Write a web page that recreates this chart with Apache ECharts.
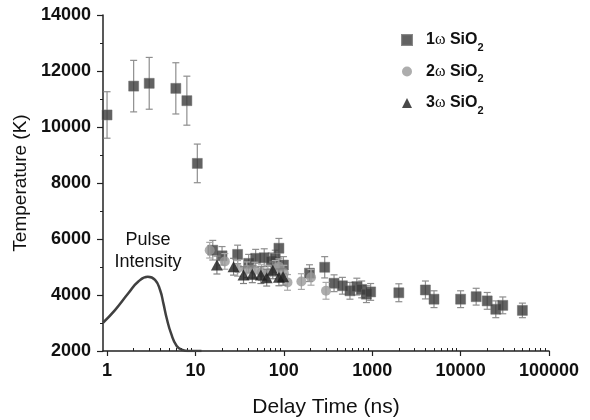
<!DOCTYPE html>
<html><head><meta charset="utf-8">
<script src="https://cdn.jsdelivr.net/npm/echarts@6/dist/echarts.min.js"></script>
<style>html,body{margin:0;padding:0;background:#fff}#c{width:590px;height:420px}</style>
</head><body><div id="c"></div>
<script>
// ---- data ----
const xTickLabels = [1, 10, 100, 1000, 10000, 100000];
const xMinorTicks = [2,3,4,5,6,7,8,9,20,30,40,50,60,70,80,90,200,300,400,500,600,700,800,900,2000,3000,4000,5000,6000,7000,8000,9000,20000,30000,40000,50000,60000,70000,80000,90000];
const yTicks = [2000, 4000, 6000, 8000, 10000, 12000, 14000];

const s1Time = [1, 2, 3, 6, 8, 10.5, 15.7, 20, 30, 40, 48, 60, 72, 80, 88, 99, 195, 290, 370, 460, 560, 670, 760, 860, 960, 2000, 4000, 5000, 10000, 15000, 20000, 25000, 30000, 50000];
const s1Temp = [10430, 11460, 11560, 11380, 10940, 8700, 5600, 5400, 5450, 5130, 5310, 5330, 5200, 5300, 5670, 5070, 4780, 4990, 4420, 4330, 4150, 4300, 4200, 4030, 4110, 4080, 4180, 3850, 3850, 3940, 3790, 3490, 3630, 3450];
const s1Err  = [830, 920, 925, 915, 875, 690, 350, 330, 330, 320, 320, 320, 300, 300, 350, 300, 300, 380, 300, 300, 300, 300, 300, 300, 300, 320, 320, 300, 300, 300, 300, 300, 300, 260];

const s2Time = [14.5, 21.5, 30, 38, 47, 56, 66, 80, 88, 100, 110, 158, 203, 300];
const s2Temp = [5600, 5200, 4950, 4900, 4890, 4800, 4780, 4950, 5010, 4780, 4450, 4480, 4630, 4150];
const s2Err  = [280, 280, 280, 280, 280, 280, 280, 280, 280, 280, 280, 280, 280, 300];

const s3Time = [17.5, 27, 35, 44, 55, 64, 75, 88, 98];
const s3Temp = [5070, 5010, 4710, 4740, 4710, 4620, 4880, 4630, 4650];
const s3Err  = [320, 300, 300, 300, 300, 300, 300, 300, 300];

const pulseTime = [0.9, 1.23, 1.74, 2.26, 2.89, 3.49, 3.98, 4.34, 4.73, 5.3, 6.14, 7.1, 8.3, 11.7];
const pulseVal  = [3010, 3460, 4060, 4480, 4650, 4540, 4180, 3700, 3170, 2630, 2180, 2040, 2000, 2000];

const seriesNames = ['1ω SiO2', '2ω SiO2', '3ω SiO2'];
const seriesOrders = ['1', '2', '3'];

// ---- chart ----
const chart = echarts.init(document.getElementById('c'), null, {renderer: 'canvas'});
const AX = '#222';
const FONT = 'Liberation Sans, Arial, sans-serif';

function errSeries(name, t, v, e, color, z) {
  return {
    type: 'custom', name: name + ' err', z: z, silent: true,
    data: t.map((x, i) => [x, v[i] - e[i], v[i] + e[i]]),
    encode: {x: 0, y: [1, 2]},
    renderItem: function (params, api) {
      const a = api.coord([api.value(0), api.value(1)]);
      const b = api.coord([api.value(0), api.value(2)]);
      const w = 3.5;
      const st = {stroke: color, lineWidth: 1.2};
      return {type: 'group', children: [
        {type: 'line', shape: {x1: a[0], y1: a[1], x2: b[0], y2: b[1]}, style: st},
        {type: 'line', shape: {x1: a[0] - w, y1: a[1], x2: a[0] + w, y2: a[1]}, style: st},
        {type: 'line', shape: {x1: b[0] - w, y1: b[1], x2: b[0] + w, y2: b[1]}, style: st}
      ]};
    }
  };
}
function pts(t, v) { return t.map((x, i) => [x, v[i]]); }

const option = {
  animation: false,
  backgroundColor: '#fff',
  grid: {left: 103, right: 41, top: 15, bottom: 69, containLabel: false, outerBoundsMode: 'none'},
  legend: {
    orient: 'vertical', left: 396, top: 27, itemGap: 10.5,
    itemWidth: 10, itemHeight: 10,
    data: seriesNames,
    formatter: function (name) {
      const i = seriesNames.indexOf(name);
      return '{n|' + seriesOrders[i] + '}{w|ω}{a| SiO}{s|2}';
    },
    textStyle: {
      rich: {
        n: {fontSize: 16, fontWeight: 'bold', fontFamily: FONT, color: '#111', lineHeight: 26, verticalAlign: 'middle', padding: [0, 0, 0, 9]},
        a: {fontSize: 16, fontWeight: 'bold', fontFamily: FONT, color: '#111', lineHeight: 26, verticalAlign: 'middle'},
        w: {fontSize: 16, fontFamily: 'Liberation Serif, serif', color: '#111', lineHeight: 26, verticalAlign: 'middle'},
        s: {fontSize: 11, fontWeight: 'bold', fontFamily: FONT, color: '#111', lineHeight: 8, verticalAlign: 'bottom'}
      }
    }
  },
  xAxis: [{
    type: 'log', logBase: 10, min: 0.9, max: 100000,
    name: 'Delay Time (ns)', nameLocation: 'middle', nameGap: 46,
    nameTextStyle: {fontSize: 21, fontFamily: FONT, color: '#111'},
    axisLine: {show: true, onZero: false, lineStyle: {color: AX, width: 1.5}},
    axisTick: {show: true, inside: false, length: 5, lineStyle: {color: AX, width: 1.2}, customValues: xTickLabels},
    axisLabel: {fontSize: 18, fontWeight: 'bold', fontFamily: FONT, color: '#111', margin: 11,
      customValues: xTickLabels, formatter: v => String(Math.round(v))},
    splitLine: {show: false}
  }, {
    type: 'log', logBase: 10, min: 0.9, max: 100000, position: 'bottom',
    axisLine: {show: false},
    axisTick: {show: true, inside: true, length: 3, lineStyle: {color: AX, width: 1}, customValues: xMinorTicks},
    axisLabel: {show: false},
    splitLine: {show: false}
  }],
  yAxis: {
    type: 'value', min: 2000, max: 14000, interval: 2000,
    name: 'Temperature (K)', nameLocation: 'middle', nameGap: 68, nameRotate: 90,
    nameTextStyle: {fontSize: 19, fontFamily: FONT, color: '#111'},
    axisLine: {show: true, lineStyle: {color: AX, width: 1.5}},
    axisTick: {show: true, inside: false, length: 6, lineStyle: {color: AX, width: 1.2}},
    minorTick: {show: true, splitNumber: 2, length: 3, lineStyle: {color: AX, width: 1}},
    axisLabel: {fontSize: 18, fontWeight: 'bold', fontFamily: FONT, color: '#111', margin: 12,
      customValues: yTicks, formatter: v => String(v)},
    splitLine: {show: false}
  },
  series: [
    {
      type: 'line', name: 'Pulse', data: pts(pulseTime, pulseVal), showSymbol: false,
      smooth: 0.5, z: 1,
      lineStyle: {color: '#404040', width: 2.5},
      markPoint: {
        symbol: 'circle', symbolSize: 0, silent: true,
        data: [{coord: [2.9, 5570], value: 0}],
        label: {show: true, position: 'inside', formatter: 'Pulse\nIntensity', fontSize: 18, lineHeight: 22,
          fontFamily: FONT, color: '#111', align: 'center'}
      }
    },
    errSeries('1', s1Time, s1Temp, s1Err, '#8e8e8e', 2),
    {type: 'scatter', name: seriesNames[0], data: pts(s1Time, s1Temp), symbol: 'rect', symbolSize: 10, z: 3,
      itemStyle: {color: '#3b3b3b', borderColor: '#6a6a6a', borderWidth: 0.6}},
    errSeries('2', s2Time, s2Temp, s2Err, '#a8a8a8', 4),
    {type: 'scatter', name: seriesNames[1], data: pts(s2Time, s2Temp), symbol: 'circle', symbolSize: 10, z: 5,
      itemStyle: {color: '#999999'}},
    errSeries('3', s3Time, s3Temp, s3Err, '#808080', 6),
    {type: 'scatter', name: seriesNames[2], data: pts(s3Time, s3Temp), symbol: 'triangle', symbolSize: [12, 11], z: 7,
      itemStyle: {color: '#1c1c1c'}}
  ]
};
chart.setOption(option);
</script>
</body></html>
